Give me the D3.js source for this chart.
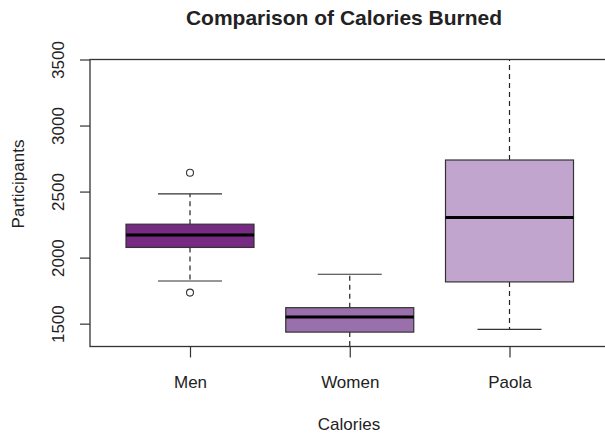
<!DOCTYPE html>
<html>
<head>
<meta charset="utf-8">
<script src="https://cdn.jsdelivr.net/npm/d3@7"></script>
<style>
  body { margin: 0; background: #fff; }
  text { font-family: "Liberation Sans", Arial, sans-serif; fill: #222; }
</style>
</head>
<body>
<div id="chart"></div>
<script>
// data
var groups = ["Men", "Women", "Paola"];
var colors = ["#762A83", "#9970AB", "#C2A5CF"];
var lowerWhisker = [1823, 1250, 1457];
var q1 = [2077, 1436, 1816];
var medians = [2172, 1550, 2304];
var q3 = [2253, 1621, 2739];
var upperWhisker = [2483, 1874, 3560];
var outliers = [[2643, 1735], [], []];
var yTicks = [1500, 2000, 2500, 3000, 3500];

var w = 605, h = 437;
var plotLeft = 90, plotTop = 59.5, plotBottom = 346.5, plotRight = 640;

var svg = d3.select("#chart").append("svg")
  .attr("width", w).attr("height", h);

var y = d3.scaleLinear().domain([1327, 3500]).range([plotBottom, plotTop]);
var x = d3.scaleLinear().domain([1, 3]).range([190, 509.5]);
var halfW = 64;

svg.append("clipPath").attr("id", "plotclip")
  .append("rect").attr("x", plotLeft).attr("y", plotTop)
  .attr("width", plotRight - plotLeft).attr("height", plotBottom - plotTop);

var plot = svg.append("g").attr("clip-path", "url(#plotclip)");

var boxes = plot.selectAll("g.box")
  .data(groups)
  .enter().append("g").attr("class", "box");

// whiskers (dashed)
boxes.append("line")
  .attr("x1", function(d, i) { return x(i + 1); })
  .attr("x2", function(d, i) { return x(i + 1); })
  .attr("y1", function(d, i) { return y(q3[i]); })
  .attr("y2", function(d, i) { return y(upperWhisker[i]); })
  .attr("stroke", "#222").attr("stroke-width", 1.2).attr("stroke-dasharray", "5,4");
boxes.append("line")
  .attr("x1", function(d, i) { return x(i + 1); })
  .attr("x2", function(d, i) { return x(i + 1); })
  .attr("y1", function(d, i) { return y(q1[i]); })
  .attr("y2", function(d, i) { return y(lowerWhisker[i]); })
  .attr("stroke", "#222").attr("stroke-width", 1.2).attr("stroke-dasharray", "5,4");

// caps
[upperWhisker, lowerWhisker].forEach(function(arr) {
  boxes.append("line")
    .attr("x1", function(d, i) { return x(i + 1) - halfW / 2; })
    .attr("x2", function(d, i) { return x(i + 1) + halfW / 2; })
    .attr("y1", function(d, i) { return y(arr[i]); })
    .attr("y2", function(d, i) { return y(arr[i]); })
    .attr("stroke", "#333").attr("stroke-width", 1.2);
});

// boxes
boxes.append("rect")
  .attr("x", function(d, i) { return x(i + 1) - halfW; })
  .attr("width", halfW * 2)
  .attr("y", function(d, i) { return y(q3[i]); })
  .attr("height", function(d, i) { return y(q1[i]) - y(q3[i]); })
  .attr("fill", function(d, i) { return colors[i]; })
  .attr("stroke", "#333").attr("stroke-width", 1.2);

// medians
boxes.append("line")
  .attr("x1", function(d, i) { return x(i + 1) - halfW; })
  .attr("x2", function(d, i) { return x(i + 1) + halfW; })
  .attr("y1", function(d, i) { return y(medians[i]); })
  .attr("y2", function(d, i) { return y(medians[i]); })
  .attr("stroke", "#000").attr("stroke-width", 3);

// outliers
boxes.each(function(d, i) {
  d3.select(this).selectAll("circle")
    .data(outliers[i]).enter().append("circle")
    .attr("cx", x(i + 1)).attr("cy", function(v) { return y(v); })
    .attr("r", 3.5).attr("fill", "none").attr("stroke", "#333").attr("stroke-width", 1.1);
});

// frame (right side runs off the picture)
svg.append("rect")
  .attr("x", plotLeft).attr("y", plotTop)
  .attr("width", plotRight - plotLeft).attr("height", plotBottom - plotTop)
  .attr("fill", "none").attr("stroke", "#333").attr("stroke-width", 1.3);

// y axis
var yAxis = svg.append("g")
  .attr("transform", "translate(" + plotLeft + ",0)")
  .call(d3.axisLeft(y).tickValues(yTicks).tickSize(10).tickFormat(d3.format("d")));
yAxis.select(".domain").remove();
yAxis.selectAll("line").attr("stroke", "#333").attr("stroke-width", 1.2);
yAxis.selectAll("text")
  .attr("transform", "rotate(-90)")
  .attr("x", 0).attr("dy", 0).attr("y", -26)
  .attr("text-anchor", "middle")
  .attr("font-size", 17).attr("fill", "#222");

// x axis
var xAxis = svg.append("g")
  .attr("transform", "translate(0," + plotBottom + ")")
  .call(d3.axisBottom(x).tickValues([1, 2, 3]).tickSize(11)
    .tickFormat(function(d) { return groups[d - 1]; }));
xAxis.select(".domain").remove();
xAxis.selectAll("line").attr("stroke", "#333").attr("stroke-width", 1.2);
xAxis.selectAll("text")
  .attr("y", 0).attr("dy", 0)
  .attr("transform", "translate(0,41)")
  .attr("font-size", 17).attr("fill", "#222");

// titles
svg.append("text")
  .attr("x", 344).attr("y", 25)
  .attr("text-anchor", "middle")
  .attr("font-size", 21).attr("font-weight", "bold").attr("fill", "#000")
  .text("Comparison of Calories Burned");

svg.append("text")
  .attr("x", 349).attr("y", 430)
  .attr("text-anchor", "middle")
  .attr("font-size", 17)
  .text("Calories");

svg.append("text")
  .attr("transform", "translate(24,184) rotate(-90)")
  .attr("text-anchor", "middle")
  .attr("font-size", 17)
  .text("Participants");
</script>
</body>
</html>
